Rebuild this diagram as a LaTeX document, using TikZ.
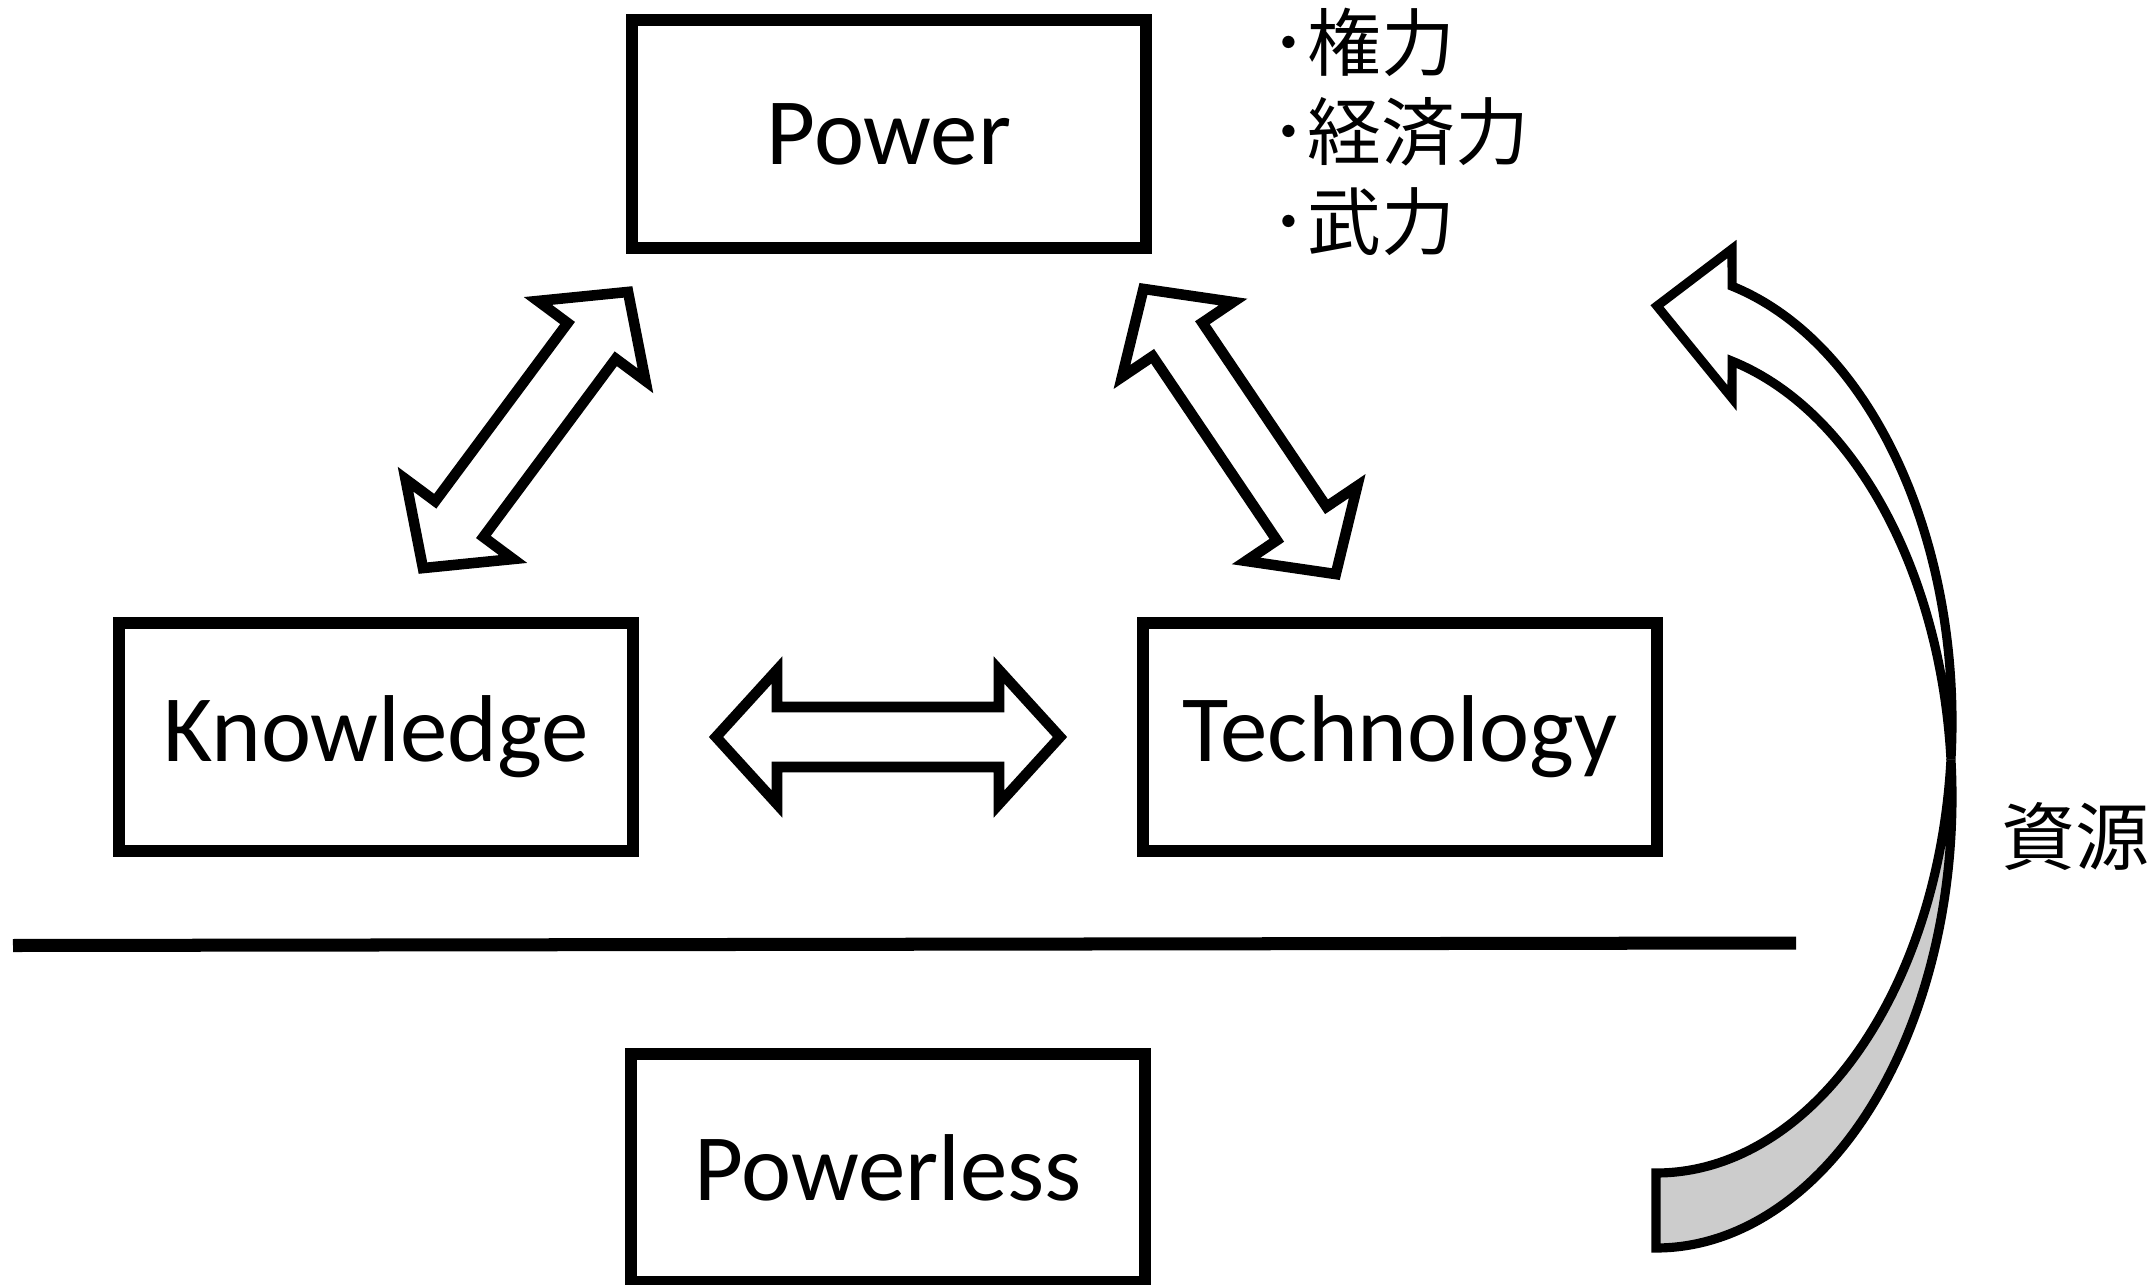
\documentclass[tikz,border=0pt]{standalone}
\usepackage{fontspec}
\setmainfont{Carlito}
\newfontfamily\jpfont{Noto Sans CJK JP}
\usetikzlibrary{calc}
\definecolor{bandgray}{RGB}{204,204,204}
\begin{document}
\begin{tikzpicture}[x=0.01cm,y=-0.01cm,
  box/.style={draw=black, line width=3.3pt, fill=white, minimum width=5.14cm,
    minimum height=2.28cm, inner sep=0pt, font=\fontsize{27}{32}\selectfont},
  jp/.style={font=\jpfont\fontsize{21}{25}\selectfont, inner sep=0pt, anchor=west},
  cur/.style={draw=black, line width=2.6pt, line join=miter},
  blockarrow/.pic={\draw[line width=3pt, fill=white, line join=miter]
    (-172,0) -- (-111,-67) -- (-111,-30) -- (111,-30) -- (111,-67) -- (172,0)
    -- (111,67) -- (111,30) -- (-111,30) -- (-111,67) -- cycle;}
]
\useasboundingbox (0,0) rectangle (2151,1285);

% boxes
\node[box] (power) at (889,134) {Power};
\node[box] (know)  at (376,737) {Knowledge};
\node[box] (tech)  at (1400,737) {Technology};
\node[box] (pless) at (888,1168) {Powerless};

% block double arrows
\pic at ($(know.east)!0.5!(tech.west)$) {blockarrow};
\pic[rotate=53.4] at (525.5,430) {blockarrow};
\pic[rotate=-56] at (1239.6,431.5) {blockarrow};

% separator line
\coordinate (l1) at (13,945.5);
\coordinate (l2) at (1796,943);
\draw[line width=3.7pt] (l1) -- (l2);

% Japanese labels
\node[jp] (j1) at (1270,42) {･権力};
\node[jp] (j2) at (1270,132) {･経済力};
\node[jp] (j3) at (1270,222) {･武力};
\node[jp, anchor=center] (res) at (2075,837) {資源};

% curved arrow
\coordinate (cA) at (1656,722);
\coordinate (cB) at (1656,797);
\draw[cur, fill=bandgray] ($(cA)+(4.77:296 and 451)$)
  arc[start angle=4.77, end angle=90, x radius=296, y radius=451]
  -- ($(cB)+(90:296 and 451)$)
  arc[start angle=90, end angle=-4.77, x radius=296, y radius=451] -- cycle;
\coordinate (hb) at (1732,398);
\coordinate (ha) at (1657,306);
\coordinate (ht) at (1732,249);
\draw[cur, fill=white] ($(cB)+(-4.77:296 and 451)$)
  arc[start angle=-4.77, end angle=-75.1, x radius=296, y radius=451]
  -- (hb) -- (ha) -- (ht)
  -- ($(cA)+(-75.1:296 and 451)$)
  arc[start angle=-75.1, end angle=4.77, x radius=296, y radius=451] -- cycle;
\end{tikzpicture}
\end{document}
